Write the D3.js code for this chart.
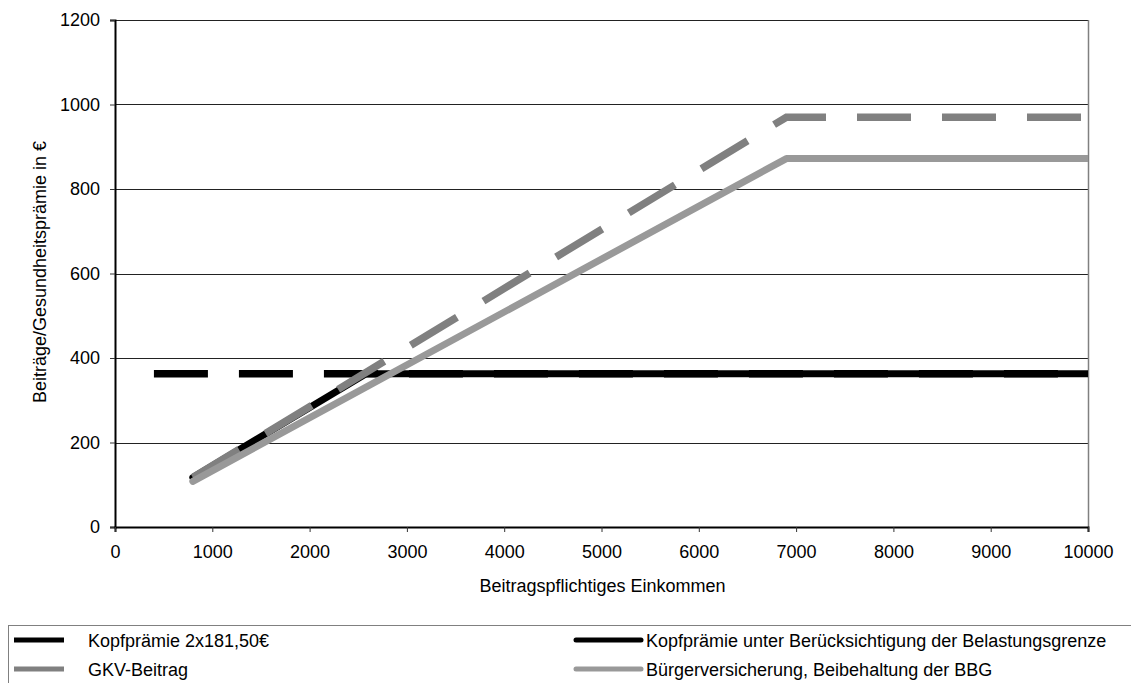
<!DOCTYPE html>
<html>
<head>
<meta charset="utf-8">
<script src="https://cdn.jsdelivr.net/npm/d3@7"></script>
<style>
  html, body { margin: 0; padding: 0; background: #fff; }
  svg { display: block; font-family: "Liberation Sans", Arial, sans-serif; }
</style>
</head>
<body>
<svg id="chart" width="1131" height="683"></svg>
<script>
// ---- data ----
const xTicks = [0, 1000, 2000, 3000, 4000, 5000, 6000, 7000, 8000, 9000, 10000];
const yTicks = [0, 200, 400, 600, 800, 1000, 1200];

const kopfpraemieX = [400, 10000];
const kopfpraemieY = [363, 363];

const belastungX = [800, 2580, 10000];
const belastungY = [117, 363, 363];

const gkvX = [800, 6900, 10000];
const gkvY = [117, 970, 970];

const buergerX = [800, 6900, 10000];
const buergerY = [108, 872, 872];

const seriesNames = [
  "Kopfprämie 2x181,50€",
  "Kopfprämie unter Berücksichtigung der Belastungsgrenze",
  "GKV-Beitrag",
  "Bürgerversicherung, Beibehaltung der BBG"
];

const xTitle = "Beitragspflichtiges Einkommen";
const yTitle = "Beiträge/Gesundheitsprämie in €";

// ---- layout ----
const svg = d3.select("#chart");
const L = 115, R = 1088, T = 20, B = 527;
const x = d3.scaleLinear().domain([0, 10000]).range([L, R]);
const y = d3.scaleLinear().domain([0, 1200]).range([B, T]);

// clip
svg.append("defs").append("clipPath").attr("id", "plotclip")
  .append("rect").attr("x", L).attr("y", T - 10).attr("width", R - L).attr("height", B - T + 20);

// gridlines
svg.append("g").selectAll("line").data(yTicks.filter(d => d > 0)).join("line")
  .attr("x1", L).attr("x2", R)
  .attr("y1", d => Math.round(y(d)) + 0.5).attr("y2", d => Math.round(y(d)) + 0.5)
  .attr("stroke", "#222").attr("stroke-width", 1);

// right border
svg.append("line").attr("x1", R + 0.5).attr("x2", R + 0.5).attr("y1", T).attr("y2", B)
  .attr("stroke", "#808080").attr("stroke-width", 1.5);

// axes
const yAxis = d3.axisLeft(y).tickValues(yTicks).tickSize(5).tickPadding(10).tickFormat(d3.format("d"));
const gy = svg.append("g").attr("transform", `translate(${L},0)`).call(yAxis);
gy.select(".domain").attr("stroke", "#000").attr("stroke-width", 2);
gy.selectAll(".tick line").attr("stroke", "#333");
gy.selectAll(".tick text").attr("font-size", 18).attr("fill", "#000")
  .attr("font-family", "Liberation Sans, Arial, sans-serif");

const xAxis = d3.axisBottom(x).tickValues(xTicks).tickSize(5).tickPadding(13).tickFormat(d3.format("d"));
const gx = svg.append("g").attr("transform", `translate(0,${B})`).call(xAxis);
gx.select(".domain").attr("stroke", "#000").attr("stroke-width", 2);
gx.selectAll(".tick line").attr("stroke", "#333");
gx.selectAll(".tick text").attr("font-size", 18).attr("fill", "#000")
  .attr("font-family", "Liberation Sans, Arial, sans-serif");

// titles
svg.append("text").attr("x", (L + R) / 2 + 1).attr("y", 592)
  .attr("text-anchor", "middle").attr("font-size", 18).text(xTitle);
svg.append("text").attr("transform", "translate(46,272) rotate(-90)")
  .attr("text-anchor", "middle").attr("font-size", 18).text(yTitle);

// lines
const line = d3.line().x(d => x(d[0])).y(d => y(d[1]));
const plot = svg.append("g").attr("clip-path", "url(#plotclip)");

plot.append("path").datum(d3.zip(kopfpraemieX, kopfpraemieY)).attr("d", line)
  .attr("fill", "none").attr("stroke", "#000").attr("stroke-width", 7.5)
  .attr("stroke-dasharray", "54,31").attr("stroke-linecap", "butt");

plot.append("path").datum(d3.zip(belastungX, belastungY)).attr("d", line)
  .attr("fill", "none").attr("stroke", "#000").attr("stroke-width", 7)
  .attr("stroke-linecap", "round").attr("stroke-linejoin", "round");

plot.append("path").datum(d3.zip(gkvX, gkvY)).attr("d", line)
  .attr("fill", "none").attr("stroke", "#808080").attr("stroke-width", 7.5)
  .attr("stroke-dasharray", "54,31").attr("stroke-linecap", "butt").attr("stroke-linejoin", "miter");

plot.append("path").datum(d3.zip(buergerX, buergerY)).attr("d", line)
  .attr("fill", "none").attr("stroke", "#999999").attr("stroke-width", 7)
  .attr("stroke-linecap", "round").attr("stroke-linejoin", "round");

// legend
svg.append("rect").attr("x", 8.5).attr("y", 625.5).attr("width", 1140).attr("height", 100)
  .attr("fill", "none").attr("stroke", "#808080").attr("stroke-width", 1);

const legendItems = [
  { name: seriesNames[0], color: "#000", cap: "butt", x1: 14, x2: 64, tx: 88, cy: 640 },
  { name: seriesNames[2], color: "#808080", cap: "butt", x1: 14, x2: 64, tx: 88, cy: 669 },
  { name: seriesNames[1], color: "#000", cap: "round", x1: 576, x2: 641, tx: 646, cy: 640 },
  { name: seriesNames[3], color: "#999999", cap: "round", x1: 576, x2: 641, tx: 646, cy: 669 }
];
const lg = svg.append("g").selectAll("g").data(legendItems).join("g");
lg.append("line").attr("x1", d => d.x1).attr("x2", d => d.x2)
  .attr("y1", d => d.cy).attr("y2", d => d.cy)
  .attr("stroke", d => d.color).attr("stroke-width", 5).attr("stroke-linecap", d => d.cap);
lg.append("text").attr("x", d => d.tx).attr("y", d => d.cy + 6.5)
  .attr("font-size", 18).attr("fill", "#000").text(d => d.name);
</script>
</body>
</html>
